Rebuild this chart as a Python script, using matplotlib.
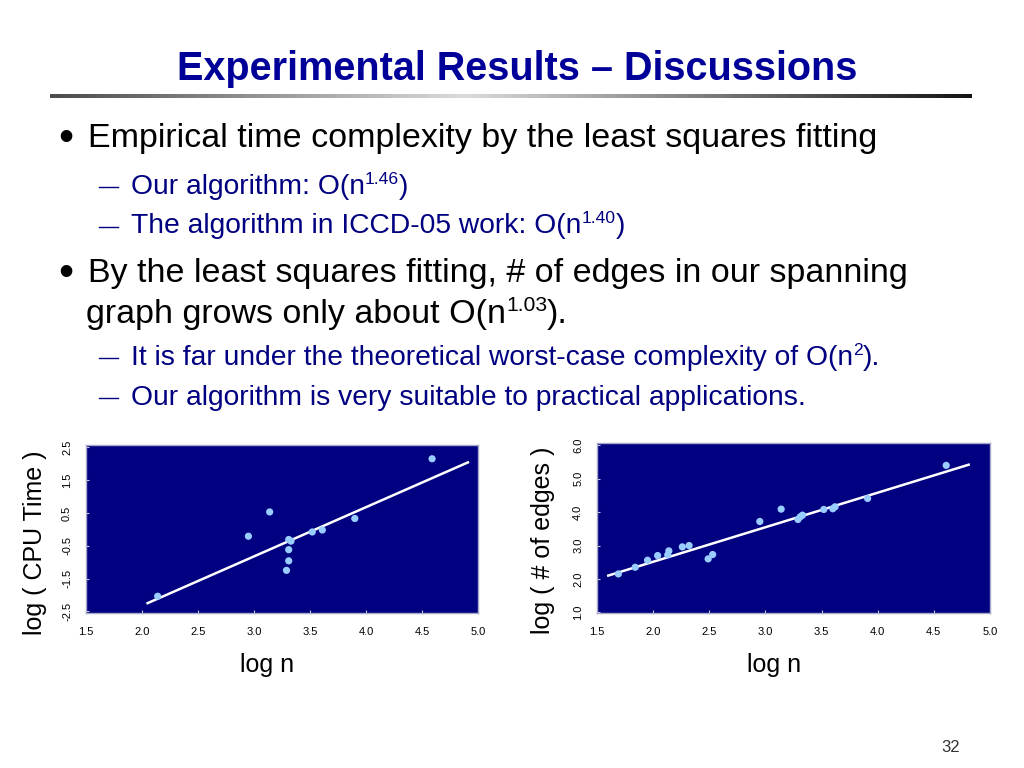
import numpy as np
import matplotlib
matplotlib.use("Agg")
import matplotlib.pyplot as plt
from matplotlib.lines import Line2D

plt.rcParams['font.family'] = ['Liberation Sans', 'DejaVu Sans']

# left plot: log n vs log(CPU time)
cpu_logn = [2.14, 2.95, 3.14, 3.31, 3.33, 3.31, 3.31, 3.29, 3.52, 3.61, 3.90, 4.59]
cpu_logt = [-2.04, -0.21, 0.53, -0.31, -0.36, -0.62, -0.96, -1.25, -0.08, -0.02, 0.33, 2.15]
cpu_fit_x = [2.05, 4.91]
cpu_fit_y = [-2.25, 2.04]

# right plot: log n vs log(# of edges)
edge_logn = [1.69, 1.84, 1.95, 2.04, 2.14, 2.13, 2.26, 2.32, 2.49, 2.53, 2.95,
             3.14, 3.29, 3.31, 3.33, 3.52, 3.60, 3.62, 3.91, 4.61]
edge_loge = [2.15, 2.35, 2.56, 2.70, 2.84, 2.72, 2.96, 3.00, 2.60, 2.73, 3.72,
             4.09, 3.78, 3.86, 3.91, 4.08, 4.10, 4.16, 4.41, 5.40]
edge_fit_x = [1.60, 4.81]
edge_fit_y = [2.10, 5.42]

x_ticks = [1.5, 2.0, 2.5, 3.0, 3.5, 4.0, 4.5, 5.0]
cpu_yticks = [-2.5, -1.5, -0.5, 0.5, 1.5, 2.5]
edge_yticks = [1.0, 2.0, 3.0, 4.0, 5.0, 6.0]

W, H = 1024, 768
NAVY = '#000080'
DOT = '#99ccff'
TITLE_BLUE = '#000099'
SUB_BLUE = '#000080'

fig = plt.figure(figsize=(W / 100, H / 100), dpi=100)
fig.patch.set_facecolor('white')
renderer = fig.canvas.get_renderer()


def px(x, y):
    return x / W, 1 - y / H


def txt(x, y, s, **kw):
    fx, fy = px(x, y)
    return fig.text(fx, fy, s, **kw)


def sup_line(x, y, parts, size, color):
    # parts: list of (text, is_superscript); drawn left to right in pixels
    for s, is_sup in parts:
        if is_sup:
            t = txt(x, y - size * 1.39 * 0.36, s, fontsize=size * 0.62,
                    color=color, va='baseline')
        else:
            t = txt(x, y, s, fontsize=size, color=color, va='baseline')
        bb = t.get_window_extent(renderer=renderer)
        x += bb.width


def dash(y):
    fig.add_artist(Line2D([99 / W, 118 / W], [1 - y / H, 1 - y / H],
                          color=SUB_BLUE, lw=1.0))


# title and the grey bar under it
txt(517, 80, "Experimental Results \u2013 Discussions", fontsize=28.5,
    fontweight='bold', color=TITLE_BLUE, ha='center', va='baseline')

bar = fig.add_axes([50 / W, 1 - 98 / H, 922 / W, 4 / H])
grad = np.concatenate([np.linspace(0.30, 0.85, 45), np.linspace(0.85, 0.08, 55)])
bar.imshow(grad[np.newaxis, :], cmap='gray', vmin=0, vmax=1, aspect='auto')
bar.axis('off')

# bullets
BODY = 24.5
SUB = 20.3
txt(66, 150, "\u2022", fontsize=31, ha='center', va='baseline')
txt(88, 147, "Empirical time complexity by the least squares fitting",
    fontsize=BODY, va='baseline')

dash(187)
sup_line(131, 194, [("Our algorithm: O(n", False), ("1.46", True), (")", False)],
         SUB, SUB_BLUE)
dash(227)
sup_line(131, 233, [("The algorithm in ICCD-05 work: O(n", False), ("1.40", True),
                    (")", False)], SUB, SUB_BLUE)

txt(66, 285, "\u2022", fontsize=31, ha='center', va='baseline')
txt(88, 282, "By the least squares fitting, # of edges in our spanning",
    fontsize=BODY, va='baseline')
sup_line(86, 323, [("graph grows only about O(n", False), ("1.03", True),
                   (").", False)], BODY, 'black')

dash(358)
sup_line(131, 365, [("It is far under the theoretical worst-case complexity of O(n", False),
                    ("2", True), (").", False)], SUB, SUB_BLUE)
dash(398)
txt(131, 405, "Our algorithm is very suitable to practical applications.",
    fontsize=SUB, color=SUB_BLUE, va='baseline')


def scatter_panel(rect, xs, ys, fx, fy, yticks, ylim):
    ax = fig.add_axes(rect)
    ax.set_facecolor(NAVY)
    ax.plot(fx, fy, color='white', lw=1.8, zorder=2)
    ax.scatter(xs, ys, s=27, color=DOT, edgecolors='none', zorder=3)
    ax.set_xlim(1.5, 5.0)
    ax.set_ylim(*ylim)
    ax.set_xticks(x_ticks)
    ax.set_xticklabels(["%.1f" % v for v in x_ticks])
    ax.set_yticks(yticks)
    ax.set_yticklabels(["%.1f" % v for v in yticks], rotation=90, va='center')
    ax.tick_params(direction='in', length=2.5, width=0.8, color='#c8c8e0',
                   labelsize=8, pad=10)
    for sp in ax.spines.values():
        sp.set_color('#a8a8c8')
        sp.set_linewidth(1)
    return ax


scatter_panel([86 / W, 1 - 613 / H, 392 / W, 168 / H], cpu_logn, cpu_logt,
              cpu_fit_x, cpu_fit_y, cpu_yticks, (-2.55, 2.57))
scatter_panel([597 / W, 1 - 613 / H, 393 / W, 170 / H], edge_logn, edge_loge,
              edge_fit_x, edge_fit_y, edge_yticks, (0.98, 6.07))

txt(35, 543, "log ( CPU Time )", fontsize=18, rotation=90, ha='center', va='center')
txt(543, 540, "log ( # of edges )", fontsize=18, rotation=90, ha='center', va='center')
txt(267, 672, "log n", fontsize=18, ha='center', va='baseline')
txt(774, 672, "log n", fontsize=18, ha='center', va='baseline')

txt(951, 752, "32", fontsize=12, color='#333333', ha='center', va='baseline')

fig.savefig("out.png", dpi=100)
